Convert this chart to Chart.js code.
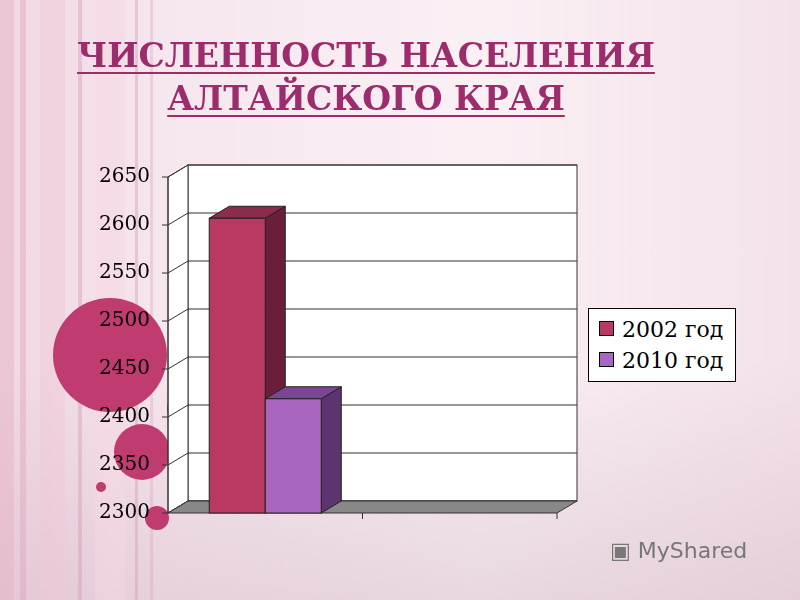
<!DOCTYPE html>
<html><head><meta charset="utf-8">
<script src="https://cdn.jsdelivr.net/npm/chart.js"></script>
<style>
html,body{margin:0;padding:0;width:800px;height:600px;overflow:hidden;}
body{background:linear-gradient(180deg,rgba(255,255,255,0) 60%,rgba(200,170,185,0.35) 100%),linear-gradient(90deg,#f1d8e3 0%,#f6e6ee 20%,#faf0f4 60%,#f4e2ea 100%);position:relative;font-family:'DejaVu Serif',serif;}
#c{position:absolute;left:0;top:0;}
.t{position:absolute;left:0;width:732px;text-align:center;color:#9c2c6c;font-weight:bold;font-size:33px;text-decoration:underline;text-decoration-thickness:2px;text-underline-offset:5px;}
#leg{position:absolute;left:588px;top:308px;width:146px;height:72px;border:1px solid #000;background:#fff;font-size:22px;}
#leg div{position:absolute;left:10px;}
#leg span{display:inline-block;width:13px;height:13px;border:1px solid #000;margin-right:8px;vertical-align:1px;}
#ms{position:absolute;left:610px;top:538px;color:#777;font-family:'DejaVu Sans';font-size:22px;}
</style></head><body>
<canvas id="c" width="800" height="600"></canvas>
<div class="t" style="top:36px">ЧИСЛЕННОСТЬ НАСЕЛЕНИЯ</div>
<div class="t" style="top:79px">АЛТАЙСКОГО КРАЯ</div>
<div id="leg"><div style="top:8px"><span style="background:#b83a62"></span>2002 год</div><div style="top:39px"><span style="background:#a866c0"></span>2010 год</div></div>
<div id="ms">▣ MyShared</div>
<script>
const categories = ['', ''];
const seriesNames = ['2002 год', '2010 год'];
const values2002 = [2607, null];
const values2010 = [2419, null];
const yMin = 2300, yMax = 2650, yStep = 50;
const front = ['#b83a62', '#a866c0'], side = ['#6a1e3a', '#5c3470'], top_ = ['#8c2c4c', '#7c4694'];
const DX = 20, DY = -12;
const deco = {
  id: 'deco',
  beforeDraw(ch) {
    const c = ch.ctx;
    c.save();
    const stripes = [[0,14,'rgba(230,180,200,0.5)'],[20,6,'rgba(220,160,190,0.4)'],[40,25,'rgba(240,200,215,0.5)'],[78,4,'rgba(210,150,180,0.4)'],[95,30,'rgba(245,215,228,0.5)'],[135,3,'rgba(210,150,180,0.4)'],[150,3,'rgba(220,170,195,0.4)']];
    stripes.forEach(s => { c.fillStyle = s[2]; c.fillRect(s[0], 0, s[1], 600); });
    c.fillStyle = '#c03c70';
    [[110,355,57],[182,408,15],[142,452,28],[101,487,5],[157,518,12]].forEach(a => { c.beginPath(); c.arc(a[0], a[1], a[2], 0, Math.PI*2); c.fill(); });
    c.restore();
  },
  beforeDatasetsDraw(ch) {
    const c = ch.ctx, a = ch.chartArea, y = ch.scales.y;
    c.save();
    c.fillStyle = '#fff'; c.strokeStyle = '#333'; c.lineWidth = 1;
    c.fillRect(a.left + DX, a.top + DY, a.right - a.left, a.bottom - a.top);
    c.strokeRect(a.left + DX, a.top + DY, a.right - a.left, a.bottom - a.top);
    c.beginPath(); c.moveTo(a.left, a.top); c.lineTo(a.left + DX, a.top + DY); c.lineTo(a.left + DX, a.bottom + DY); c.lineTo(a.left, a.bottom); c.closePath(); c.fill(); c.stroke();
    for (let v = yMin; v <= yMax; v += yStep) {
      const py = y.getPixelForValue(v);
      c.beginPath(); c.moveTo(a.left - 6, py); c.lineTo(a.left, py); c.lineTo(a.left + DX, py + DY); c.lineTo(a.right + DX, py + DY); c.stroke();
    }
    c.fillStyle = '#888';
    c.beginPath(); c.moveTo(a.left, a.bottom); c.lineTo(a.right, a.bottom); c.lineTo(a.right + DX, a.bottom + DY); c.lineTo(a.left + DX, a.bottom + DY); c.closePath(); c.fill(); c.stroke();
    c.beginPath(); c.moveTo(a.left, a.bottom); c.lineTo(a.left, a.top); c.stroke();
    const mid = (a.left + a.right) / 2;
    [mid, a.right].forEach(x => { c.beginPath(); c.moveTo(x, a.bottom); c.lineTo(x, a.bottom + 6); c.stroke(); });
    c.restore();
  },
  afterDatasetsDraw(ch) {
    const c = ch.ctx, a = ch.chartArea;
    c.save(); c.strokeStyle = '#222'; c.lineWidth = 1;
    ch.data.datasets.forEach((ds, i) => {
      ch.getDatasetMeta(i).data.forEach((b, j) => {
        if (ds.data[j] == null) return;
        const l = b.x - b.width / 2, r = b.x + b.width / 2, t = b.y, bt = a.bottom;
        c.fillStyle = side[i];
        c.beginPath(); c.moveTo(r, t); c.lineTo(r + DX, t + DY); c.lineTo(r + DX, bt + DY); c.lineTo(r, bt); c.closePath(); c.fill(); c.stroke();
        c.fillStyle = top_[i];
        c.beginPath(); c.moveTo(l, t); c.lineTo(l + DX, t + DY); c.lineTo(r + DX, t + DY); c.lineTo(r, t); c.closePath(); c.fill(); c.stroke();
        c.fillStyle = front[i];
        c.fillRect(l, t, r - l, bt - t);
        c.strokeRect(l, t, r - l, bt - t);
      });
    });
    c.restore();
  }
};
new Chart(document.getElementById('c'), {
  type: 'bar',
  data: { labels: categories, datasets: [
    { label: seriesNames[0], data: values2002, backgroundColor: 'rgba(0,0,0,0)' },
    { label: seriesNames[1], data: values2010, backgroundColor: 'rgba(0,0,0,0)' }
  ]},
  options: {
    responsive: false, animation: false, events: [],
    layout: { padding: { left: 90, right: 243, top: 177, bottom: 87 } },
    categoryPercentage: 0.576, barPercentage: 1,
    plugins: { legend: { display: false }, tooltip: { enabled: false } },
    scales: {
      x: { display: false, grid: { display: false } },
      y: { min: yMin, max: yMax, afterFit(s) { s.width = 78; },
        grid: { display: false }, border: { display: false },
        ticks: { stepSize: yStep, color: '#000', padding: 10, callback: v => String(v), font: { family: 'DejaVu Serif', size: 20 } } }
    }
  },
  plugins: [deco]
});
</script>
</body></html>
